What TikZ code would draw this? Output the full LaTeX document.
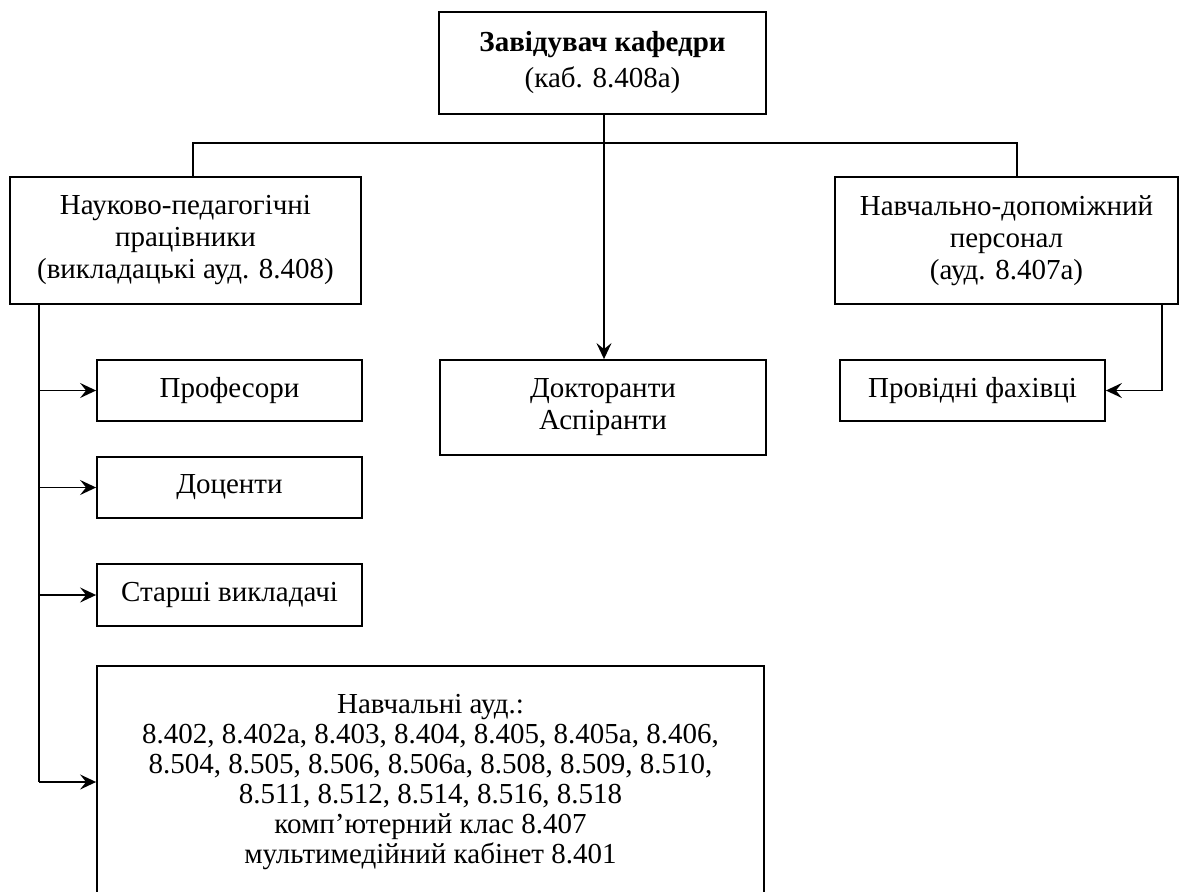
\documentclass[tikz,border=0pt]{standalone}
\usepackage{fontspec}
\setmainfont{Liberation Serif}
\usetikzlibrary{arrows.meta}
\begin{document}
\begin{tikzpicture}[x=1pt,y=-1pt,
  box/.style={draw, line width=1.8pt, align=center, inner sep=0pt,
    font=\fontsize{29}{32}\selectfont},
  conn/.style={line width=1.8pt},
  arr/.style={conn, -{Stealth[length=16pt,width=15pt,inset=6pt]}}]
\useasboundingbox (0,0) rectangle (1179,892);
\node[box, minimum width=327pt, minimum height=102pt, font=\fontsize{29}{36}\selectfont] (top) at (602.5,63)
  {\textbf{Завідувач кафедри}\\(каб. 8.408а)};
\node[box, minimum width=351pt, minimum height=127pt] (left) at (185.5,240.5)
  {Науково-педагогічні\\працівники\\(викладацькі ауд. 8.408)};
\node[box, minimum width=343pt, minimum height=127pt] (right) at (1006.5,240.5)
  {Навчально-допоміжний\\персонал\\(ауд. 8.407а)};
\node[box, minimum width=326pt, minimum height=95pt] (doct) at (603,407.5)
  {Докторанти\\Аспіранти};
\node[box, minimum width=265pt, minimum height=61pt] (prov) at (972.5,390.5)
  {Провідні фахівці};
\node[box, minimum width=265pt, minimum height=61pt] (prof) at (229.5,390.5)
  {Професори};
\node[box, minimum width=265pt, minimum height=61pt] (doc) at (229.5,487.5)
  {Доценти};
\node[box, minimum width=265pt, minimum height=62pt] (star) at (229.5,595)
  {Старші викладачі};
\node[box, minimum width=667pt, minimum height=232pt, font=\fontsize{29}{30}\selectfont] (aud) at (430.5,782)
  {Навчальні ауд.:\\8.402, 8.402а, 8.403, 8.404, 8.405, 8.405а, 8.406,\\8.504, 8.505, 8.506, 8.506а, 8.508, 8.509, 8.510,\\8.511, 8.512, 8.514, 8.516, 8.518\\комп’ютерний клас 8.407\\мультимедійний кабінет 8.401};
% connectors
\coordinate (hl) at (193,143);
\coordinate (hr) at (1017,143);
\coordinate (vc) at (604,143);
\coordinate (vl) at (39,782);
\coordinate (vr) at (1162,390.5);
\draw[arr] (top.south -| vc) -- (doct.north -| vc);
\draw[conn] (left.north -| hl) -- (hl) -- (hr) -- (right.north -| hr);
\draw[conn] (left.south -| vl) -- (vl);
\draw[arr] (prof.west -| vl) -- (prof.west);
\draw[arr] (doc.west -| vl) -- (doc.west);
\draw[arr] (star.west -| vl) -- (star.west);
\draw[arr] (vl) -- (aud.west);
\draw[arr] (right.south -| vr) -- (vr) -- (prov.east);
\end{tikzpicture}
\end{document}
